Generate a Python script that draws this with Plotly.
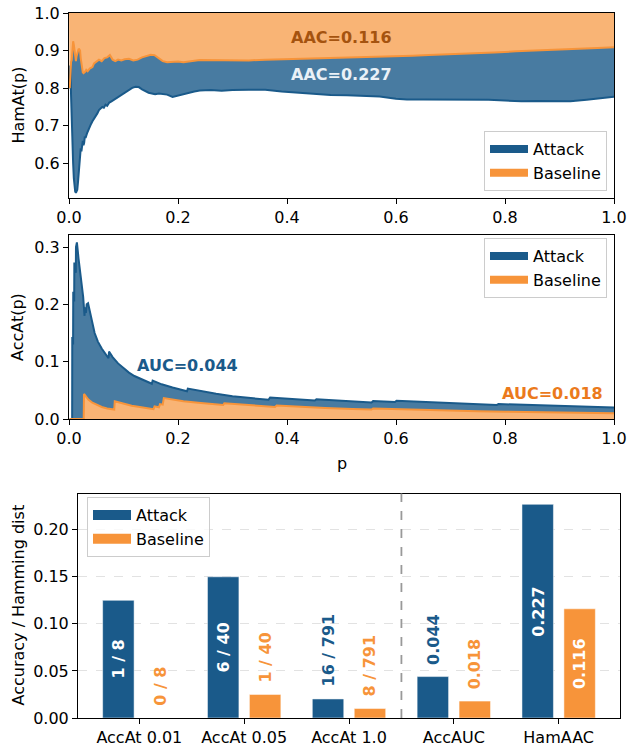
import plotly.graph_objects as go

# ---------------- data ----------------
# HamAt(p) curves (fraction p of the ranked list -> normalised Hamming similarity)
ham_attack_p = [0.0013, 0.0025, 0.0038, 0.005, 0.0063, 0.0076, 0.0089, 0.0101, 0.0114, 0.0127,
                0.0139, 0.0152, 0.0165, 0.0177, 0.019, 0.0203, 0.0215, 0.0228, 0.024, 0.0253,
                0.0266, 0.0278, 0.0291, 0.0304, 0.033, 0.0355, 0.038, 0.0405, 0.043, 0.046,
                0.049, 0.052, 0.055, 0.058, 0.061, 0.064, 0.067, 0.07, 0.074, 0.078,
                0.083, 0.088, 0.093, 0.098, 0.104, 0.11, 0.116, 0.122, 0.128, 0.134,
                0.14, 0.146, 0.152, 0.158, 0.165, 0.172, 0.18, 0.19, 0.2, 0.21,
                0.22, 0.23, 0.24, 0.26, 0.28, 0.30, 0.33, 0.36, 0.39, 0.42,
                0.45, 0.48, 0.51, 0.54, 0.57, 0.60, 0.62, 0.65, 0.68, 0.71,
                0.74, 0.77, 0.80, 0.83, 0.86, 0.89, 0.92, 0.95, 0.97, 1.0]
ham_attack_v = [0.80, 0.86, 0.78, 0.70, 0.66, 0.60, 0.56, 0.535, 0.525, 0.522,
                0.525, 0.53, 0.55, 0.575, 0.60, 0.625, 0.64, 0.632, 0.655, 0.66,
                0.648, 0.655, 0.672, 0.668, 0.68, 0.69, 0.697, 0.705, 0.712, 0.718,
                0.727, 0.733, 0.742, 0.746, 0.75, 0.748, 0.756, 0.753, 0.762, 0.765,
                0.77, 0.774, 0.778, 0.783, 0.79, 0.795, 0.801, 0.804, 0.803, 0.797,
                0.792, 0.788, 0.786, 0.784, 0.786, 0.784, 0.783, 0.777, 0.781, 0.785,
                0.789, 0.791, 0.794, 0.795, 0.793, 0.795, 0.796, 0.796, 0.791, 0.788,
                0.786, 0.782, 0.781, 0.779, 0.778, 0.772, 0.770, 0.770, 0.770, 0.769,
                0.771, 0.769, 0.767, 0.765, 0.766, 0.766, 0.765, 0.769, 0.773, 0.777]

ham_base_p = [0.0013, 0.0025, 0.0038, 0.005, 0.0063, 0.0076, 0.0089, 0.0101, 0.0114, 0.0127,
              0.0139, 0.0152, 0.0165, 0.0177, 0.019, 0.0203, 0.0215, 0.0228, 0.024, 0.0253,
              0.0266, 0.0291, 0.0316, 0.0342, 0.038, 0.043, 0.046, 0.05, 0.055, 0.06,
              0.065, 0.07, 0.075, 0.08, 0.085, 0.09, 0.096, 0.102, 0.11, 0.118,
              0.126, 0.134, 0.142, 0.15, 0.157, 0.164, 0.172, 0.18, 0.19, 0.2,
              0.21, 0.22, 0.23, 0.24, 0.26, 0.28, 0.30, 0.33, 0.36, 0.39,
              0.42, 0.45, 0.48, 0.51, 0.54, 0.57, 0.60, 0.63, 0.66, 0.70,
              0.74, 0.78, 0.82, 0.86, 0.90, 0.94, 0.97, 1.0]
ham_base_v = [0.80, 0.86, 0.87, 0.875, 0.905, 0.925, 0.915, 0.895, 0.88, 0.872,
              0.885, 0.89, 0.90, 0.905, 0.903, 0.90, 0.88, 0.862, 0.848, 0.842,
              0.84, 0.843, 0.849, 0.845, 0.852, 0.856, 0.866, 0.87, 0.876, 0.872,
              0.88, 0.882, 0.888, 0.876, 0.872, 0.876, 0.874, 0.877, 0.878, 0.874,
              0.876, 0.882, 0.886, 0.889, 0.888, 0.88, 0.872, 0.869, 0.87, 0.871,
              0.869, 0.87, 0.873, 0.875, 0.875, 0.873, 0.874, 0.874, 0.876, 0.877,
              0.877, 0.879, 0.879, 0.881, 0.881, 0.883, 0.885, 0.886, 0.888, 0.890,
              0.893, 0.895, 0.898, 0.900, 0.903, 0.905, 0.907, 0.909]

# AccAt(p) curves
acc_attack_p = [0.0013, 0.0058, 0.0060, 0.0075, 0.0078, 0.0095, 0.0098, 0.0125, 0.0128, 0.0145,
                0.0175, 0.020, 0.023, 0.026, 0.0285, 0.029, 0.031, 0.0325, 0.035, 0.038,
                0.042, 0.047, 0.053, 0.06, 0.068, 0.0725, 0.0735, 0.08, 0.09, 0.10,
                0.11, 0.12, 0.13, 0.14, 0.152, 0.1535, 0.17, 0.19, 0.2165, 0.218,
                0.24, 0.27, 0.30, 0.33, 0.366, 0.369, 0.40, 0.43, 0.451, 0.454,
                0.50, 0.555, 0.558, 0.598, 0.601, 0.65, 0.70, 0.75, 0.785, 0.788,
                0.85, 0.90, 0.95, 1.0]
acc_attack_v = [0.0, 0.0, 0.143, 0.13, 0.222, 0.205, 0.273, 0.255, 0.300, 0.308,
                0.28, 0.26, 0.233, 0.213, 0.18, 0.195, 0.185, 0.20, 0.202, 0.19,
                0.17, 0.15, 0.135, 0.123, 0.112, 0.106, 0.1175, 0.108, 0.097, 0.089,
                0.081, 0.075, 0.0705, 0.066, 0.0615, 0.067, 0.0605, 0.055, 0.0485, 0.053,
                0.049, 0.044, 0.0395, 0.0365, 0.0335, 0.0375, 0.0355, 0.0335, 0.0322, 0.0345,
                0.0318, 0.0288, 0.0312, 0.0295, 0.0317, 0.0295, 0.0275, 0.0257, 0.0246, 0.026,
                0.0242, 0.0228, 0.0215, 0.0202]

acc_base_p = [0.0013, 0.0270, 0.0275, 0.031, 0.0355, 0.042, 0.05, 0.06, 0.07, 0.083,
              0.084, 0.10, 0.115, 0.13, 0.145, 0.155, 0.157, 0.165, 0.167, 0.172,
              0.174, 0.19, 0.21, 0.237, 0.26, 0.283, 0.285, 0.32, 0.35, 0.378,
              0.381, 0.42, 0.47, 0.52, 0.555, 0.558, 0.60, 0.65, 0.70, 0.75,
              0.80, 0.85, 0.90, 0.95, 1.0]
acc_base_v = [0.0, 0.0, 0.0437, 0.039, 0.0338, 0.029, 0.025, 0.021, 0.0185, 0.0165,
              0.031, 0.027, 0.023, 0.021, 0.0185, 0.0172, 0.022, 0.0205, 0.026, 0.025,
              0.0365, 0.0338, 0.031, 0.0285, 0.026, 0.0245, 0.0275, 0.0248, 0.0228, 0.021,
              0.0234, 0.0213, 0.0192, 0.0175, 0.0165, 0.0183, 0.0170, 0.0157, 0.0145, 0.0136,
              0.0127, 0.0120, 0.0113, 0.0107, 0.0101]

# Summary bars
bar_categories = ["AccAt 0.01", "AccAt 0.05", "AccAt 1.0", "AccAUC", "HamAAC"]
attack_bar_values = [1 / 8, 6 / 40, 16 / 791, 0.044, 0.227]
attack_bar_labels = ["1 / 8", "6 / 40", "16 / 791", "0.044", "0.227"]
baseline_bar_values = [0 / 8, 1 / 40, 8 / 791, 0.018, 0.116]
baseline_bar_labels = ["0 / 8", "1 / 40", "8 / 791", "0.018", "0.116"]

attack_aac, baseline_aac = 0.227, 0.116
attack_auc, baseline_auc = 0.044, 0.018

# ---------------- style ----------------
FONT = "DejaVu Sans"
FS = 16
BLUE = "#1a5a8a"
ORANGE = "#f7943a"
BLUE_FILL = "rgba(26,90,138,0.80)"
ORANGE_FILL = "rgba(247,148,58,0.70)"
W, H = 627, 746


def px_x(px):
    return px / W


def px_y(py):
    return 1 - py / H


fig = go.Figure()

# ---- top panel: HamAt(p) ----
fig.add_trace(go.Scatter(x=ham_attack_p, y=ham_attack_v, mode="lines", line=dict(width=0),
                         showlegend=False, hoverinfo="skip", xaxis="x", yaxis="y"))
fig.add_trace(go.Scatter(x=ham_base_p, y=ham_base_v, mode="lines", line=dict(width=0),
                         fill="tonexty", fillcolor=BLUE_FILL, showlegend=False,
                         hoverinfo="skip", xaxis="x", yaxis="y"))
fig.add_trace(go.Scatter(x=[0, 1], y=[1, 1], mode="lines", line=dict(width=0),
                         fill="tonexty", fillcolor=ORANGE_FILL, showlegend=False,
                         hoverinfo="skip", xaxis="x", yaxis="y"))
fig.add_trace(go.Scatter(x=ham_attack_p, y=ham_attack_v, mode="lines",
                         line=dict(color=BLUE, width=2), showlegend=False, xaxis="x", yaxis="y"))
fig.add_trace(go.Scatter(x=ham_base_p, y=ham_base_v, mode="lines",
                         line=dict(color=ORANGE, width=2), showlegend=False, xaxis="x", yaxis="y"))

# ---- middle panel: AccAt(p) ----
fig.add_trace(go.Scatter(x=acc_base_p, y=acc_base_v, mode="lines", line=dict(width=0),
                         fill="tozeroy", fillcolor=ORANGE_FILL, showlegend=False,
                         hoverinfo="skip", xaxis="x2", yaxis="y2"))
fig.add_trace(go.Scatter(x=acc_attack_p, y=acc_attack_v, mode="lines", line=dict(width=0),
                         fill="tonexty", fillcolor=BLUE_FILL, showlegend=False,
                         hoverinfo="skip", xaxis="x2", yaxis="y2"))
fig.add_trace(go.Scatter(x=acc_attack_p, y=acc_attack_v, mode="lines",
                         line=dict(color=BLUE, width=2), showlegend=False, xaxis="x2", yaxis="y2"))
fig.add_trace(go.Scatter(x=acc_base_p, y=acc_base_v, mode="lines",
                         line=dict(color=ORANGE, width=2), showlegend=False, xaxis="x2", yaxis="y2"))

# ---- bottom panel: bars ----
idx = list(range(len(bar_categories)))
x_att = [i - 0.2 for i in idx]
x_base = [i + 0.2 for i in idx]
fig.add_trace(go.Bar(x=x_att, y=attack_bar_values, width=0.3,
                     marker=dict(color=BLUE, line=dict(color="white", width=0.5)),
                     showlegend=False, xaxis="x3", yaxis="y3"))
fig.add_trace(go.Bar(x=x_base, y=baseline_bar_values, width=0.3,
                     marker=dict(color=ORANGE, line=dict(color="white", width=0.5)),
                     showlegend=False, xaxis="x3", yaxis="y3"))

# legend entries for each panel
for leg, lw in (("legend", 8), ("legend2", 8), ("legend3", 11)):
    fig.add_trace(go.Scatter(x=[None], y=[None], mode="lines", name="Attack",
                             line=dict(color=BLUE, width=lw), legend=leg, xaxis="x", yaxis="y"))
    fig.add_trace(go.Scatter(x=[None], y=[None], mode="lines", name="Baseline",
                             line=dict(color=ORANGE, width=lw), legend=leg, xaxis="x", yaxis="y"))

annotations = []

# curve-area labels
annotations.append(dict(x=0.5, y=0.934, xref="x", yref="y", text=f"<b>AAC={baseline_aac:.3f}</b>",
                        showarrow=False, font=dict(family=FONT, size=FS, color="#a5530f")))
annotations.append(dict(x=0.5, y=0.836, xref="x", yref="y", text=f"<b>AAC={attack_aac:.3f}</b>",
                        showarrow=False, font=dict(family=FONT, size=FS, color="#eaf1f7")))
annotations.append(dict(x=0.121, y=0.0936, xref="x2", yref="y2", text=f"<b>AUC={attack_auc:.3f}</b>",
                        xanchor="left", showarrow=False, font=dict(family=FONT, size=FS, color=BLUE)))
annotations.append(dict(x=0.984, y=0.0445, xref="x2", yref="y2", text=f"<b>AUC={baseline_auc:.3f}</b>",
                        xanchor="right", showarrow=False, font=dict(family=FONT, size=FS, color="#eb7a1c")))

# bar value labels
for xs, vals, labels, col in ((x_att, attack_bar_values, attack_bar_labels, BLUE),
                              (x_base, baseline_bar_values, baseline_bar_labels, ORANGE)):
    for xv, v, lab in zip(xs, vals, labels):
        if v >= 0.1:
            annotations.append(dict(x=xv, y=v / 2, xref="x3", yref="y3", text=f"<b>{lab}</b>",
                                    textangle=-90, showarrow=False, xanchor="center", yanchor="middle",
                                    font=dict(family=FONT, size=FS, color="white")))
        else:
            annotations.append(dict(x=xv, y=v, xref="x3", yref="y3", text=f"<b>{lab}</b>",
                                    textangle=-90, showarrow=False, xanchor="center", yanchor="bottom",
                                    yshift=10, font=dict(family=FONT, size=FS, color=col)))

# axis titles
title_font = dict(family=FONT, size=FS, color="black")
annotations.append(dict(x=px_x(18), y=px_y(105.5), xref="paper", yref="paper", text="HamAt(p)",
                        textangle=-90, showarrow=False, xanchor="center", yanchor="middle", font=title_font))
annotations.append(dict(x=px_x(18), y=px_y(327), xref="paper", yref="paper", text="AccAt(p)",
                        textangle=-90, showarrow=False, xanchor="center", yanchor="middle", font=title_font))
annotations.append(dict(x=px_x(18), y=px_y(605.5), xref="paper", yref="paper", text="Accuracy / Hamming dist",
                        textangle=-90, showarrow=False, xanchor="center", yanchor="middle", font=title_font))
annotations.append(dict(x=px_x(341.5), y=px_y(463), xref="paper", yref="paper", text="p",
                        showarrow=False, xanchor="center", yanchor="middle", font=title_font))

axis_common = dict(showline=True, mirror=True, linecolor="black", linewidth=1, ticks="outside",
                   ticklen=5, tickwidth=1, tickcolor="black", showgrid=False, zeroline=False,
                   automargin=False, tickfont=dict(family=FONT, size=FS, color="black"))

legend_common = dict(font=dict(family=FONT, size=FS, color="black"), bgcolor="rgba(255,255,255,0.8)",
                     bordercolor="#cccccc", borderwidth=1, itemwidth=38, traceorder="normal")

fig.update_layout(
    template="none",
    width=W, height=H, autosize=False,
    margin=dict(l=0, r=0, t=0, b=0, pad=0),
    paper_bgcolor="white", plot_bgcolor="white",
    font=dict(family=FONT, size=FS, color="black"),
    barmode="overlay",
    xaxis=dict(domain=[px_x(69), px_x(614)], range=[0, 1], anchor="y", tickvals=[0, 0.2, 0.4, 0.6, 0.8, 1.0],
               tickformat=".1f", **axis_common),
    yaxis=dict(domain=[px_y(198), px_y(13)], range=[0.508, 1.0], anchor="x",
               tickvals=[0.6, 0.7, 0.8, 0.9, 1.0], tickformat=".1f", **axis_common),
    xaxis2=dict(domain=[px_x(69), px_x(614)], range=[0, 1], anchor="y2", tickvals=[0, 0.2, 0.4, 0.6, 0.8, 1.0],
                tickformat=".1f", **axis_common),
    yaxis2=dict(domain=[px_y(419), px_y(235)], range=[0, 0.321], anchor="x2",
                tickvals=[0, 0.1, 0.2, 0.3], tickformat=".1f", **axis_common),
    xaxis3=dict(domain=[px_x(78), px_x(620)], range=[-0.585, 4.585], anchor="y3",
                tickvals=idx, ticktext=bar_categories, **axis_common),
    yaxis3=dict(domain=[px_y(718), px_y(493.5)], range=[0, 0.2385], anchor="x3",
                tickvals=[0, 0.05, 0.10, 0.15, 0.20], tickformat=".2f",
                **{**axis_common, "showgrid": True, "gridcolor": "#e2e2e2", "griddash": "dash", "gridwidth": 1}),
    legend=dict(x=px_x(607), xanchor="right", y=px_y(191), yanchor="bottom", **legend_common),
    legend2=dict(x=px_x(607), xanchor="right", y=px_y(238), yanchor="top", **legend_common),
    legend3=dict(x=px_x(87), xanchor="left", y=px_y(497), yanchor="top", **legend_common),
    annotations=annotations,
    shapes=[dict(type="line", xref="x3", yref="y3 domain", x0=2.5, x1=2.5, y0=0, y1=1,
                 line=dict(color="#999999", width=1.8, dash="dash"))],
)

fig.write_html("out.html")
